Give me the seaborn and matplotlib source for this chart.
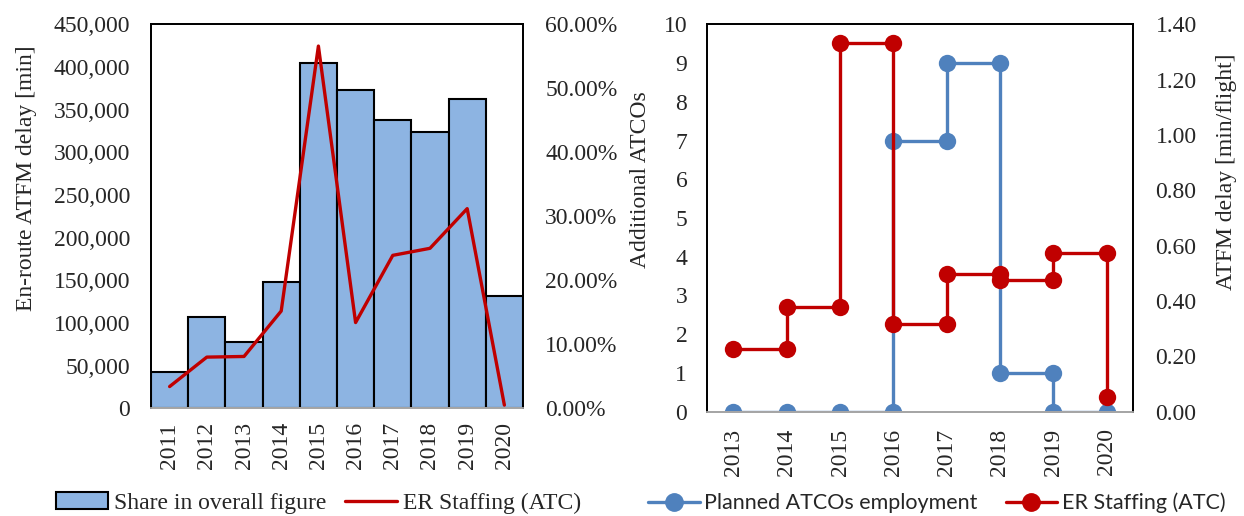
import matplotlib
matplotlib.use("Agg")
import matplotlib.pyplot as plt
from matplotlib.patches import Patch
from matplotlib.lines import Line2D
from matplotlib.ticker import FuncFormatter, MultipleLocator
import seaborn as sns
import pandas as pd
import numpy as np

# left chart: en-route ATFM delay per year and share of ER staffing
years_left = ["2011", "2012", "2013", "2014", "2015", "2016", "2017", "2018", "2019", "2020"]
delay_min = [42300, 107000, 78000, 148000, 404500, 373300, 337600, 323900, 362200, 131600]
er_share = [0.034, 0.080, 0.081, 0.152, 0.566, 0.134, 0.239, 0.250, 0.312, 0.005]

# right chart: step series (repeated years give the vertical jumps)
atco_years = [2013, 2014, 2015, 2016, 2016, 2017, 2017, 2018, 2018, 2019, 2019, 2020]
atco_planned = [0, 0, 0, 0, 7, 7, 9, 9, 1, 1, 0, 0]
er_years = [2013, 2014, 2014, 2015, 2015, 2016, 2016, 2017, 2017, 2018, 2018, 2019, 2019, 2020, 2020]
er_delay = [0.227, 0.227, 0.378, 0.378, 1.334, 1.334, 0.316, 0.316, 0.499, 0.499, 0.477, 0.477, 0.574, 0.574, 0.054]
years_right = [2013, 2014, 2015, 2016, 2017, 2018, 2019, 2020]

bar_col = "#8DB4E2"
red = "#C00000"
blue = "#4F81BD"

sns.set_theme(style="white")
plt.rcParams["font.family"] = ["Liberation Serif", "DejaVu Serif"]
fs = 17
ms = 12.5

fig = plt.figure(figsize=(12.44, 5.16), dpi=100)
ax1 = fig.add_axes([0.1214, 0.2087, 0.4204 - 0.1214, 0.9529 - 0.2087])
ax3 = fig.add_axes([0.5681, 0.2021, 0.911 - 0.5681, 0.9529 - 0.2021])

# ---- left panel
df_left = pd.DataFrame({"year": years_left, "delay": delay_min, "share": er_share})
sns.barplot(data=df_left, x="year", y="delay", color=bar_col, width=1.0,
            edgecolor="black", linewidth=1.5, saturation=1, ax=ax1)
ax1.set_ylim(0, 450000)
ax1.set_xlim(-0.5, len(years_left) - 0.5)
ax1.yaxis.set_major_locator(MultipleLocator(50000))
ax1.yaxis.set_major_formatter(FuncFormatter(lambda v, p: f"{int(v):,}"))
ax1.set_xlabel("")
ax1.set_ylabel("En-route ATFM delay [min]", fontsize=fs, labelpad=12)
ax1.yaxis.label.set_y(0.60)
ax1.tick_params(axis="y", length=0, labelsize=fs, pad=15)
ax1.tick_params(axis="x", length=0, labelsize=fs, pad=10, rotation=90)

ax2 = ax1.twinx()
sns.lineplot(x=np.arange(len(years_left)), y=er_share, color=red, linewidth=2.4, ax=ax2)
ax2.set_ylim(0, 0.6)
ax2.yaxis.set_major_locator(MultipleLocator(0.1))
ax2.yaxis.set_major_formatter(FuncFormatter(lambda v, p: f"{v * 100:.2f}%"))
ax2.tick_params(axis="y", length=0, labelsize=fs, pad=16)
ax2.set_ylabel("")

# ---- right panel
sns.lineplot(x=atco_years, y=atco_planned, estimator=None, sort=False, color=blue,
             linewidth=2.4, marker="o", markersize=ms, markeredgewidth=0, ax=ax3)
ax3.set_ylim(0, 10)
ax3.set_xlim(2012.5, 2020.5)
ax3.set_xticks(years_right)
ax3.set_xticklabels([str(y) for y in years_right])
ax3.yaxis.set_major_locator(MultipleLocator(1))
ax3.set_ylabel("Additional ATCOs", fontsize=fs, labelpad=9)
ax3.yaxis.label.set_y(0.60)
ax3.tick_params(axis="y", length=0, labelsize=fs, pad=14)
ax3.tick_params(axis="x", length=0, labelsize=fs, pad=12, rotation=90)

ax4 = ax3.twinx()
sns.lineplot(x=er_years, y=er_delay, estimator=None, sort=False, color=red,
             linewidth=2.4, marker="o", markersize=ms, markeredgewidth=0, ax=ax4)
ax4.set_ylim(0, 1.4)
ax4.yaxis.set_major_locator(MultipleLocator(0.2))
ax4.yaxis.set_major_formatter(FuncFormatter(lambda v, p: f"{v:.2f}"))
ax4.set_ylabel("ATFM delay [min/flight]", fontsize=fs, labelpad=14)
ax4.yaxis.label.set_y(0.62)
ax4.tick_params(axis="y", length=0, labelsize=fs, pad=16)

for a in (ax1, ax2, ax3, ax4):
    for side in ("left", "right", "top"):
        a.spines[side].set_color("black")
        a.spines[side].set_linewidth(1.3)
    a.spines["bottom"].set_color("#A6A6A6")
    a.spines["bottom"].set_linewidth(1.3)

# legends
h_left = [Patch(facecolor=bar_col, edgecolor="black", linewidth=1.5, label="Share in overall figure"),
          Line2D([0], [0], color=red, linewidth=2.4, label="ER Staffing (ATC)")]
fig.legend(handles=h_left, loc="center", bbox_to_anchor=(0.256, 0.025), ncol=2, frameon=False,
           fontsize=fs, handlelength=2.2, handletextpad=0.25, columnspacing=0.8)

h_right = [Line2D([0], [0], color=blue, linewidth=2.4, marker="o", markersize=ms, label="Planned ATCOs employment"),
           Line2D([0], [0], color=red, linewidth=2.4, marker="o", markersize=ms, label="ER Staffing (ATC)")]
fig.legend(handles=h_right, loc="center", bbox_to_anchor=(0.753, 0.025), ncol=2, frameon=False,
           prop={"family": ["Lato", "DejaVu Sans"], "size": 15.5}, handlelength=2.4,
           handletextpad=0.2, columnspacing=1.3)

fig.savefig("out.png", dpi=100)
